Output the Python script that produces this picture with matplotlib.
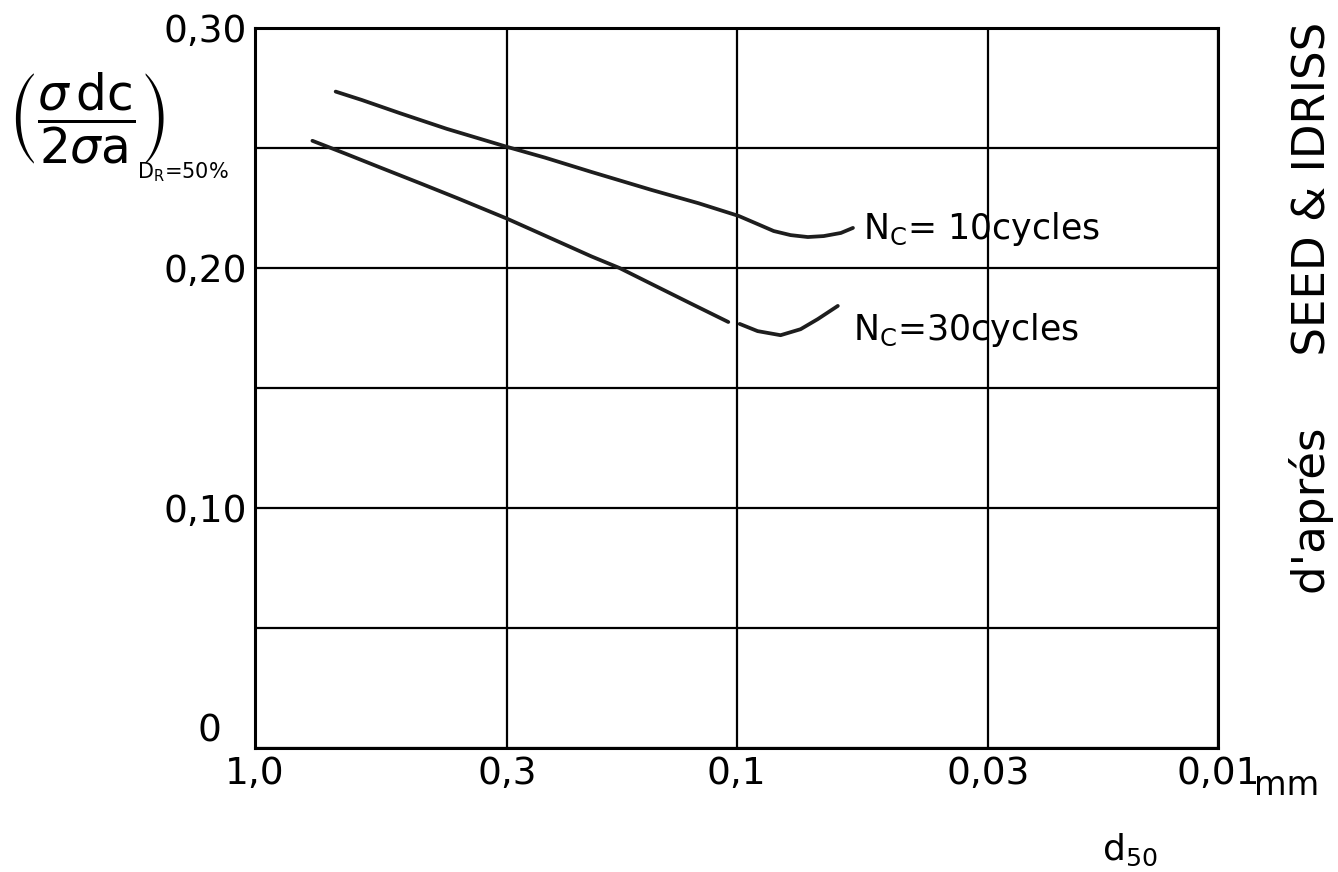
import numpy as np
import matplotlib
matplotlib.use("Agg")
import matplotlib.pyplot as plt

# ---- data ----
d_10 = [0.68, 0.60, 0.50, 0.40, 0.30, 0.25, 0.20, 0.15, 0.12, 0.099,
        0.0904, 0.0837, 0.0772, 0.0711, 0.0659, 0.0607, 0.0573]
v_10 = [0.2735, 0.2700, 0.2645, 0.2580, 0.2505, 0.2460, 0.2400, 0.2325, 0.2270, 0.2217,
        0.2183, 0.2154, 0.2137, 0.2129, 0.2133, 0.2146, 0.2167]

d_30a = [0.76, 0.65, 0.55, 0.45, 0.38, 0.30, 0.25, 0.20, 0.175, 0.15, 0.125, 0.104]
v_30a = [0.253, 0.2477, 0.2419, 0.2350, 0.2291, 0.2206, 0.2135, 0.2048, 0.2000, 0.1933, 0.1854, 0.1775]
d_30b = [0.0985, 0.0904, 0.081, 0.0736, 0.0678, 0.0616]
v_30b = [0.1767, 0.1737, 0.1720, 0.1745, 0.1787, 0.1842]

x_ticks = [1.0, 0.3, 0.1, 0.03, 0.01]
x_labels = ["1,0", "0,3", "0,1", "0,03", "0,01"]
y_ticks = [0.0, 0.05, 0.10, 0.15, 0.20, 0.25, 0.30]
y_labels = ["0", "", "0,10", "", "0,20", "", "0,30"]

label_10 = r"N$_\mathrm{C}$= 10cycles"
label_30 = r"N$_\mathrm{C}$=30cycles"

plt.rcParams['font.family'] = ['DejaVu Sans']
plt.rcParams['mathtext.fontset'] = 'dejavusans'

fig = plt.figure(figsize=(13.38, 8.72), dpi=100)
ax = fig.add_axes([0.1906, 0.1422, 0.7197, 0.8257])

ax.set_xscale('log')
ax.set_xlim(1.0, 0.01)
ax.set_ylim(0, 0.30)

ax.set_xticks(x_ticks)
ax.set_xticklabels(x_labels)
ax.xaxis.set_minor_locator(matplotlib.ticker.NullLocator())
ax.set_yticks(y_ticks)
ax.set_yticklabels([""] + y_labels[1:])
ax.tick_params(axis='both', length=0, labelsize=27)
ax.tick_params(axis='x', pad=6)
ax.tick_params(axis='y', pad=6)
ax.grid(True, color='black', linewidth=1.6)
for s in ax.spines.values():
    s.set_linewidth(2.2)
ax.set_axisbelow(True)

# the "0" label sits higher and further left in the reference
ax.annotate(y_labels[0], xy=(0, y_ticks[0]), xycoords=('axes fraction', 'data'),
            xytext=(-24, 12), textcoords='offset points',
            fontsize=27, ha='right', va='center')

kw = dict(color='#1e1e1e', linewidth=2.7, solid_capstyle='round', solid_joinstyle='round')
ax.plot(d_10, v_10, **kw)
ax.plot(d_30a, v_30a, **kw)
ax.plot(d_30b, v_30b, **kw)

ax.text(0.0546, 0.212, label_10, fontsize=25, ha='left', va='baseline')
ax.text(0.0573, 0.170, label_30, fontsize=25, ha='left', va='baseline')

ax.annotate("mm", xy=(0.01, 0), xycoords=('data', 'axes fraction'),
            xytext=(26, -27), textcoords='offset points',
            fontsize=24, ha='left', va='center')

fig.text(1130 / 1338, 1 - 850 / 872, r"d$_{50}$", fontsize=26,
         ha='center', va='center')

# y-axis quantity (fraction) and its subscript
fig.text(0.006, 1 - 118 / 872,
         r"$\left(\dfrac{\sigma\,\mathrm{dc}}{2\sigma\mathrm{a}}\right)$",
         fontsize=35, ha='left', va='center')
fig.text(137 / 1338, 1 - 178 / 872, r"D$_\mathrm{R}$=50%",
         fontsize=15, ha='left', va='baseline')

fig.text(1312 / 1338, 1 - 308 / 872, "d'aprés     SEED & IDRISS",
         rotation=90, fontsize=32.5, ha='center', va='center')

fig.savefig("out.png", dpi=100, facecolor='white')
